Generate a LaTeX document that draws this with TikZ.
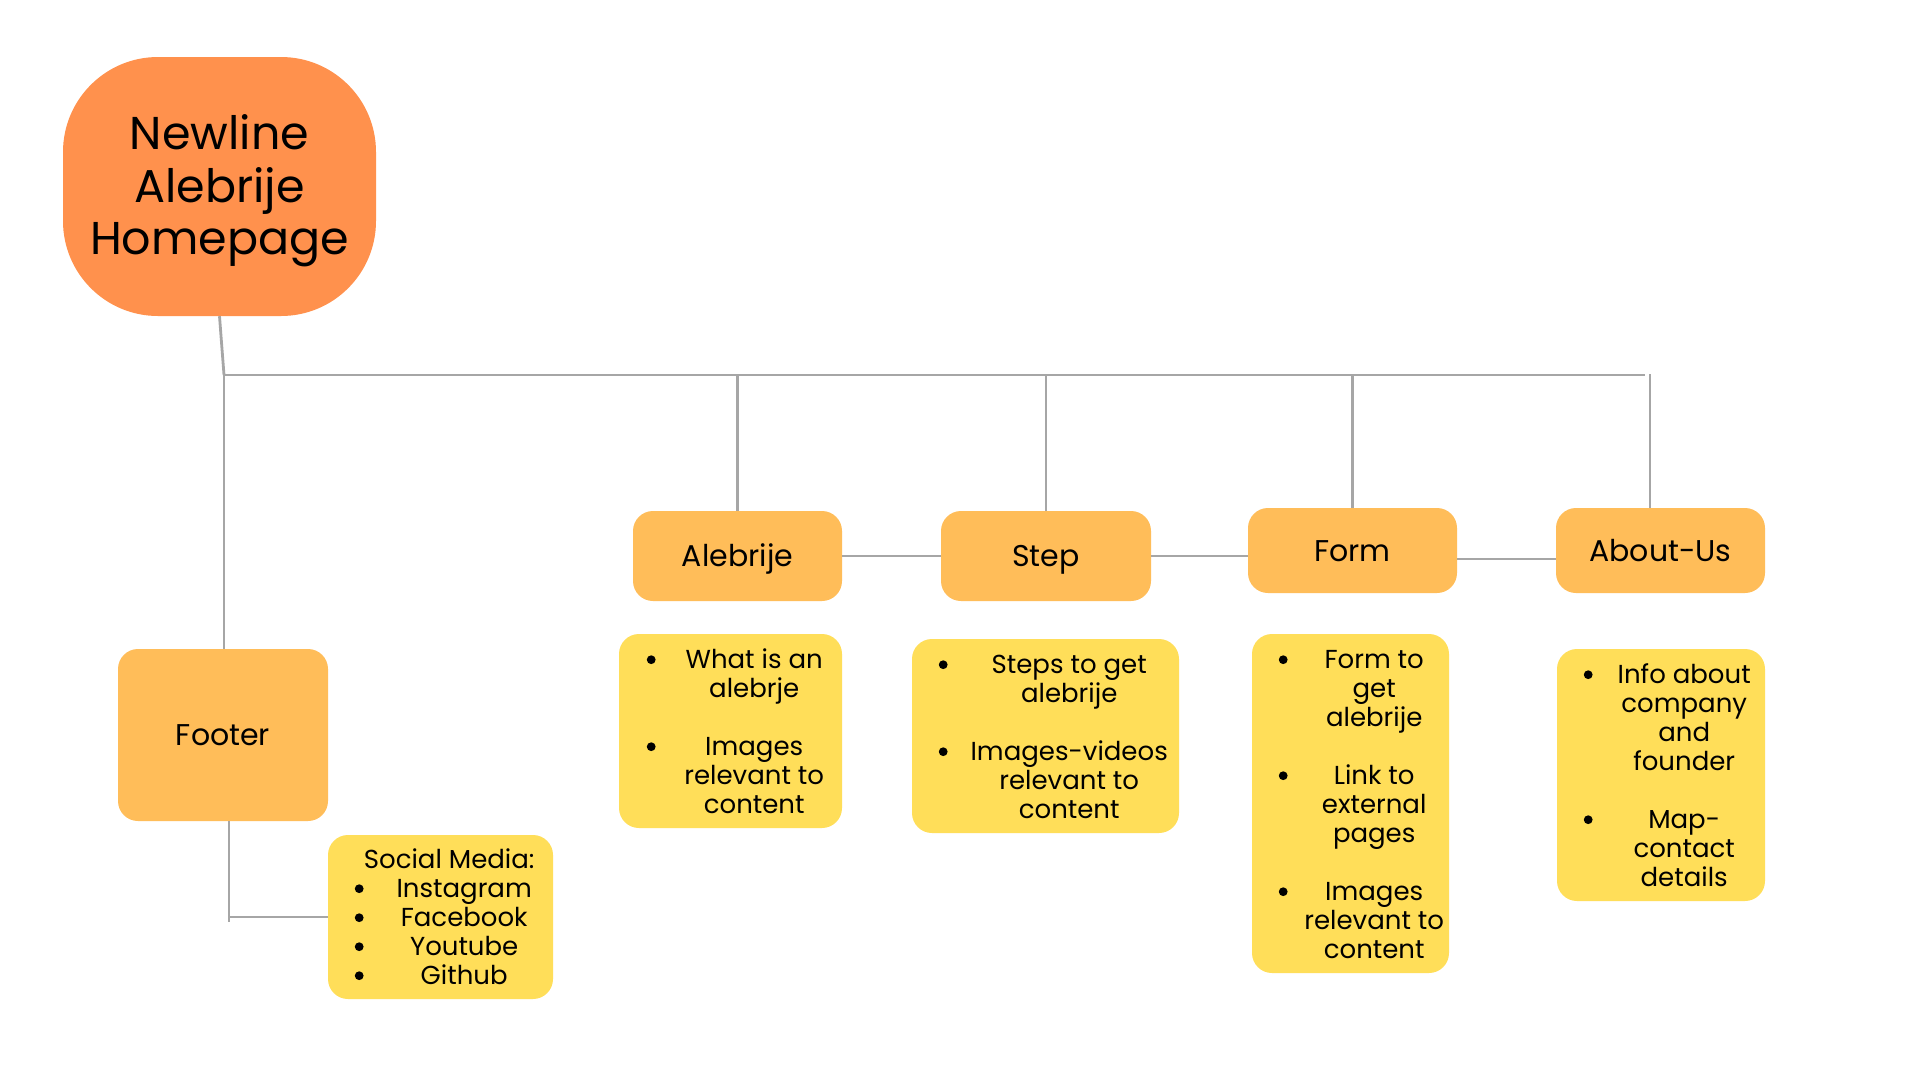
\documentclass[tikz,border=0pt]{standalone}
\usepackage{fontspec}
\setmainfont{Poppins}
\usepackage{array}
\definecolor{mainorange}{HTML}{FF914D}
\definecolor{secorange}{HTML}{FFBD59}
\definecolor{itemyellow}{HTML}{FFDE59}
\definecolor{linegray}{HTML}{A6A6A6}
\newcommand{\blt}{\tikz[baseline=0pt]\fill[black] (0pt,8.3pt) circle (4.4pt);}
\tikzset{
  conn/.style={draw=linegray, line width=2.8pt},
  mainbox/.style={fill=mainorange, rounded corners=95pt, minimum width=313pt, minimum height=259pt, inner sep=0pt, align=center, font=\fontsize{46}{52.5}\selectfont},
  secbox/.style={fill=secorange, rounded corners=20pt, inner sep=0pt, text height=21pt, text depth=0pt, font=\fontsize{30}{34}\selectfont},
  itembox/.style={fill=itemyellow, rounded corners=20pt, inner sep=0pt},
  listtext/.style={inner sep=0pt, anchor=base west, font=\fontsize{26}{29}\selectfont},
}
\begin{document}
\begin{tikzpicture}[x=1pt, y=-1pt]
\useasboundingbox[fill=white] (0,0) rectangle (1920,1080);

% main node
\node[mainbox] (main) at (219.5,186.5) {\rule{0pt}{44pt}Newline\\Alebrije\\Homepage};

% section boxes
\node[secbox, minimum width=210pt, minimum height=172pt] (footer) at (223,735) {Footer};
\node[secbox, minimum width=209pt, minimum height=90pt] (alebrije) at (737.5,556) {Alebrije};
\node[secbox, minimum width=210pt, minimum height=90pt] (step) at (1046,556) {Step};
\node[secbox, minimum width=209pt, minimum height=85pt] (form) at (1352.5,550.5) {Form};
\node[secbox, minimum width=209pt, minimum height=85pt] (about) at (1660.5,550.5) {About-Us};

% content boxes
\node[itembox, minimum width=225pt, minimum height=164pt] (social) at (440.5,917) {};
\node[itembox, minimum width=223pt, minimum height=194pt] (alcontent) at (730.5,731) {};
\node[itembox, minimum width=267pt, minimum height=194pt] (stcontent) at (1045.5,736) {};
\node[itembox, minimum width=197pt, minimum height=339pt] (fmcontent) at (1350.5,803.5) {};
\node[itembox, minimum width=208pt, minimum height=252pt] (abcontent) at (1661,775) {};

% content texts
\node[listtext] (socialtext) at (344,868) {\begin{tabular}[t]{@{}w{c}{30pt}@{}w{c}{180pt}@{}}
\multicolumn{2}{@{}w{c}{194pt}@{}}{Social Media:}\\
\blt & Instagram\\
\blt & Facebook\\
\blt & Youtube\\
\blt & Github
\end{tabular}};

\node[listtext] (altext) at (636,668) {\begin{tabular}[t]{@{}w{c}{30pt}@{}w{c}{176pt}@{}}
\blt & What is an\\
 & alebrje\\
 & \\
\blt & Images\\
 & relevant to\\
 & content
\end{tabular}};

\node[listtext] (sttext) at (928,673) {\begin{tabular}[t]{@{}w{c}{30pt}@{}w{c}{222pt}@{}}
\blt & Steps to get\\
 & alebrije\\
 & \\
\blt & Images-videos\\
 & relevant to\\
 & content
\end{tabular}};

\node[listtext] (fmtext) at (1268,668) {\begin{tabular}[t]{@{}w{c}{30pt}@{}w{c}{152pt}@{}}
\blt & Form to\\
 & get\\
 & alebrije\\
 & \\
\blt & Link to\\
 & external\\
 & pages\\
 & \\
\blt & Images\\
 & relevant to\\
 & content
\end{tabular}};

\node[listtext] (abtext) at (1573,683) {\begin{tabular}[t]{@{}w{c}{30pt}@{}w{c}{162pt}@{}}
\blt & Info about\\
 & company\\
 & and\\
 & founder\\
 & \\
\blt & Map-\\
 & contact\\
 & details
\end{tabular}};

% connectors
\coordinate (hub) at (224,375);
\coordinate (hubend) at (1645,375);
\coordinate (abtop) at (1650,374);
\coordinate (fa) at (1458,559);
\coordinate (fk) at (229,922);

\draw[conn] (main.south) -- (hub);
\draw[conn] (hub) -- (hubend);
\draw[conn] (hub) -- (hub |- footer.north);
\draw[conn] (alebrije.north) -- (alebrije.north |- hub);
\draw[conn] (step.north) -- (step.north |- hub);
\draw[conn] (form.north) -- (form.north |- hub);
\draw[conn] (about.north -| abtop) -- (abtop);
\draw[conn] (alebrije.east) -- (step.west);
\draw[conn] (step.east) -- (step.east -| form.west);
\draw[conn] (form.east |- fa) -- (about.west |- fa);
\draw[conn] (footer.south -| fk) -- (fk);
\draw[conn] (fk |- social.west) -- (social.west);
\end{tikzpicture}
\end{document}
